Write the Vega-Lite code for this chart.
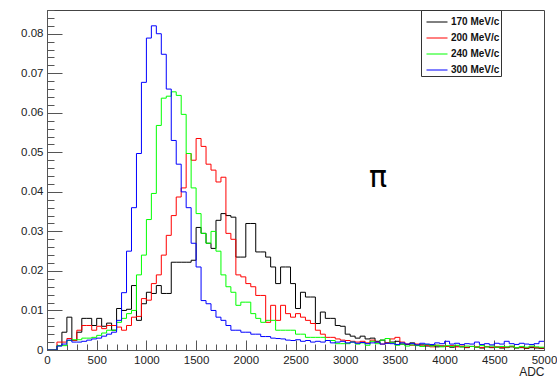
{
  "$schema": "https://vega.github.io/schema/vega-lite/v6.json",
  "width": 497,
  "height": 340,
  "autosize": {"type": "none"},
  "padding": {"left": 47, "top": 10, "right": 13, "bottom": 32},
  "background": "white",
  "config": {"view": {"stroke": "#444", "strokeWidth": 1}, "font": "Liberation Sans"},
  "layer": [
    {
      "data": {"values": [
        {"adc": 0, "170": 0, "200": 0, "240": 0, "300": 0},
        {"adc": 50, "170": 0, "200": 0, "240": 0, "300": 0},
        {"adc": 100, "170": 0.0011, "200": 0.0020, "240": 0.0011, "300": 0.0010},
        {"adc": 150, "170": 0.0045, "200": 0.0020, "240": 0.0011, "300": 0.0015},
        {"adc": 200, "170": 0.0083, "200": 0.0029, "240": 0.0024, "300": 0.0025},
        {"adc": 250, "170": 0.0024, "200": 0.0024, "240": 0.0026, "300": 0.0020},
        {"adc": 300, "170": 0.0045, "200": 0.0050, "240": 0.0026, "300": 0.0020},
        {"adc": 350, "170": 0.0080, "200": 0.0062, "240": 0.0030, "300": 0.0022},
        {"adc": 400, "170": 0.0080, "200": 0.0062, "240": 0.0030, "300": 0.0025},
        {"adc": 450, "170": 0.0062, "200": 0.0050, "240": 0.0032, "300": 0.0028},
        {"adc": 500, "170": 0.0080, "200": 0.0060, "240": 0.0037, "300": 0.0030},
        {"adc": 550, "170": 0.0060, "200": 0.0054, "240": 0.0043, "300": 0.0035},
        {"adc": 600, "170": 0.0068, "200": 0.0062, "240": 0.0050, "300": 0.0040},
        {"adc": 650, "170": 0.0050, "200": 0.0062, "240": 0.0050, "300": 0.0045},
        {"adc": 700, "170": 0.0105, "200": 0.0058, "240": 0.0070, "300": 0.0075},
        {"adc": 750, "170": 0.0100, "200": 0.0050, "240": 0.0080, "300": 0.0145},
        {"adc": 800, "170": 0.0103, "200": 0.0062, "240": 0.0092, "300": 0.0250},
        {"adc": 850, "170": 0.0163, "200": 0.0083, "240": 0.0100, "300": 0.0360},
        {"adc": 900, "170": 0.0075, "200": 0.0085, "240": 0.0190, "300": 0.0497},
        {"adc": 950, "170": 0.0117, "200": 0.0130, "240": 0.0240, "300": 0.0677},
        {"adc": 1000, "170": 0.0146, "200": 0.0126, "240": 0.0330, "300": 0.0789},
        {"adc": 1050, "170": 0.0143, "200": 0.0168, "240": 0.0396, "300": 0.0820},
        {"adc": 1100, "170": 0.0163, "200": 0.0190, "240": 0.0568, "300": 0.0800},
        {"adc": 1150, "170": 0.0143, "200": 0.0240, "240": 0.0637, "300": 0.0748},
        {"adc": 1200, "170": 0.0143, "200": 0.0290, "240": 0.0642, "300": 0.0660},
        {"adc": 1250, "170": 0.0222, "200": 0.0340, "240": 0.0653, "300": 0.0530},
        {"adc": 1300, "170": 0.0222, "200": 0.0387, "240": 0.0644, "300": 0.0470},
        {"adc": 1350, "170": 0.0222, "200": 0.0410, "240": 0.0596, "300": 0.0400},
        {"adc": 1400, "170": 0.0222, "200": 0.0497, "240": 0.0497, "300": 0.0360},
        {"adc": 1450, "170": 0.0227, "200": 0.0480, "240": 0.0410, "300": 0.0270},
        {"adc": 1500, "170": 0.0310, "200": 0.0535, "240": 0.0345, "300": 0.0210},
        {"adc": 1550, "170": 0.0295, "200": 0.0515, "240": 0.0295, "300": 0.0125},
        {"adc": 1600, "170": 0.0270, "200": 0.0470, "240": 0.0270, "300": 0.0117},
        {"adc": 1650, "170": 0.0257, "200": 0.0455, "240": 0.0300, "300": 0.0100},
        {"adc": 1700, "170": 0.0328, "200": 0.0425, "240": 0.0250, "300": 0.0083},
        {"adc": 1750, "170": 0.0345, "200": 0.0437, "240": 0.0190, "300": 0.0075},
        {"adc": 1800, "170": 0.0340, "200": 0.0295, "240": 0.0160, "300": 0.0062},
        {"adc": 1850, "170": 0.0336, "200": 0.0280, "240": 0.0146, "300": 0.0050},
        {"adc": 1900, "170": 0.0235, "200": 0.0190, "240": 0.0113, "300": 0.0050},
        {"adc": 1950, "170": 0.0235, "200": 0.0185, "240": 0.0121, "300": 0.0045},
        {"adc": 2000, "170": 0.0320, "200": 0.0168, "240": 0.0121, "300": 0.0045},
        {"adc": 2050, "170": 0.0320, "200": 0.0160, "240": 0.0092, "300": 0.0040},
        {"adc": 2100, "170": 0.0248, "200": 0.0138, "240": 0.0080, "300": 0.0040},
        {"adc": 2150, "170": 0.0248, "200": 0.0138, "240": 0.0070, "300": 0.0034},
        {"adc": 2200, "170": 0.0235, "200": 0.0070, "240": 0.0075, "300": 0.0034},
        {"adc": 2250, "170": 0.0210, "200": 0.0113, "240": 0.0075, "300": 0.0030},
        {"adc": 2300, "170": 0.0168, "200": 0.0075, "240": 0.0050, "300": 0.0029},
        {"adc": 2350, "170": 0.0210, "200": 0.0113, "240": 0.0050, "300": 0.0028},
        {"adc": 2400, "170": 0.0210, "200": 0.0092, "240": 0.0050, "300": 0.0025},
        {"adc": 2450, "170": 0.0168, "200": 0.0083, "240": 0.0050, "300": 0.0024},
        {"adc": 2500, "170": 0.0105, "200": 0.0092, "240": 0.0040, "300": 0.0026},
        {"adc": 2550, "170": 0.0146, "200": 0.0083, "240": 0.0040, "300": 0.0022},
        {"adc": 2600, "170": 0.0134, "200": 0.0075, "240": 0.0032, "300": 0.0024},
        {"adc": 2650, "170": 0.0134, "200": 0.0067, "240": 0.0032, "300": 0.0020},
        {"adc": 2700, "170": 0.0067, "200": 0.0050, "240": 0.0032, "300": 0.0022},
        {"adc": 2750, "170": 0.0096, "200": 0.0040, "240": 0.0032, "300": 0.0020},
        {"adc": 2800, "170": 0.0080, "200": 0.0032, "240": 0.0024, "300": 0.0024},
        {"adc": 2850, "170": 0.0080, "200": 0.0032, "240": 0.0024, "300": 0.0018},
        {"adc": 2900, "170": 0.0062, "200": 0.0028, "240": 0.0016, "300": 0.0020},
        {"adc": 2950, "170": 0.0060, "200": 0.0025, "240": 0.0016, "300": 0.0022},
        {"adc": 3000, "170": 0.0040, "200": 0.0024, "240": 0.0016, "300": 0.0018},
        {"adc": 3050, "170": 0.0035, "200": 0.0022, "240": 0.0020, "300": 0.0020},
        {"adc": 3100, "170": 0.0030, "200": 0.0020, "240": 0.0015, "300": 0.0017},
        {"adc": 3150, "170": 0.0035, "200": 0.0022, "240": 0.0018, "300": 0.0019},
        {"adc": 3200, "170": 0.0028, "200": 0.0018, "240": 0.0012, "300": 0.0016},
        {"adc": 3250, "170": 0.0030, "200": 0.0025, "240": 0.0022, "300": 0.0018},
        {"adc": 3300, "170": 0.0022, "200": 0.0020, "240": 0.0016, "300": 0.0020},
        {"adc": 3350, "170": 0.0025, "200": 0.0015, "240": 0.0025, "300": 0.0015},
        {"adc": 3400, "170": 0.0018, "200": 0.0018, "240": 0.0029, "300": 0.0017},
        {"adc": 3450, "170": 0.0020, "200": 0.0028, "240": 0.0018, "300": 0.0016},
        {"adc": 3500, "170": 0.0022, "200": 0.0032, "240": 0.0012, "300": 0.0014},
        {"adc": 3550, "170": 0.0015, "200": 0.0020, "240": 0.0015, "300": 0.0018},
        {"adc": 3600, "170": 0.0014, "200": 0.0015, "240": 0.0010, "300": 0.0015},
        {"adc": 3650, "170": 0.0018, "200": 0.0012, "240": 0.0013, "300": 0.0016},
        {"adc": 3700, "170": 0.0012, "200": 0.0015, "240": 0.0011, "300": 0.0013},
        {"adc": 3750, "170": 0.0013, "200": 0.0010, "240": 0.0009, "300": 0.0017},
        {"adc": 3800, "170": 0.0010, "200": 0.0012, "240": 0.0014, "300": 0.0015},
        {"adc": 3850, "170": 0.0012, "200": 0.0008, "240": 0.0010, "300": 0.0014},
        {"adc": 3900, "170": 0.0008, "200": 0.0012, "240": 0.0012, "300": 0.0018},
        {"adc": 3950, "170": 0.0010, "200": 0.0010, "240": 0.0008, "300": 0.0016},
        {"adc": 4000, "170": 0.0009, "200": 0.0009, "240": 0.0011, "300": 0.0022},
        {"adc": 4050, "170": 0.0007, "200": 0.0011, "240": 0.0009, "300": 0.0015},
        {"adc": 4100, "170": 0.0010, "200": 0.0008, "240": 0.0012, "300": 0.0017},
        {"adc": 4150, "170": 0.0008, "200": 0.0010, "240": 0.0008, "300": 0.0014},
        {"adc": 4200, "170": 0.0006, "200": 0.0007, "240": 0.0010, "300": 0.0016},
        {"adc": 4250, "170": 0.0009, "200": 0.0009, "240": 0.0009, "300": 0.0015},
        {"adc": 4300, "170": 0.0007, "200": 0.0008, "240": 0.0007, "300": 0.0020},
        {"adc": 4350, "170": 0.0005, "200": 0.0006, "240": 0.0011, "300": 0.0014},
        {"adc": 4400, "170": 0.0008, "200": 0.0009, "240": 0.0008, "300": 0.0016},
        {"adc": 4450, "170": 0.0006, "200": 0.0007, "240": 0.0010, "300": 0.0013},
        {"adc": 4500, "170": 0.0007, "200": 0.0008, "240": 0.0007, "300": 0.0017},
        {"adc": 4550, "170": 0.0005, "200": 0.0006, "240": 0.0009, "300": 0.0015},
        {"adc": 4600, "170": 0.0006, "200": 0.0007, "240": 0.0008, "300": 0.0022},
        {"adc": 4650, "170": 0.0008, "200": 0.0009, "240": 0.0010, "300": 0.0016},
        {"adc": 4700, "170": 0.0005, "200": 0.0006, "240": 0.0006, "300": 0.0014},
        {"adc": 4750, "170": 0.0006, "200": 0.0007, "240": 0.0009, "300": 0.0017},
        {"adc": 4800, "170": 0.0004, "200": 0.0005, "240": 0.0007, "300": 0.0015},
        {"adc": 4850, "170": 0.0006, "200": 0.0008, "240": 0.0010, "300": 0.0014},
        {"adc": 4900, "170": 0.0005, "200": 0.0006, "240": 0.0008, "300": 0.0016},
        {"adc": 4950, "170": 0.0004, "200": 0.0005, "240": 0.0007, "300": 0.0022},
        {"adc": 5000, "170": 0.0004, "200": 0.0005, "240": 0.0007, "300": 0.0022}
      ]},
      "transform": [{"fold": ["170", "200", "240", "300"], "as": ["series", "v"]}],
      "mark": {"type": "line", "interpolate": "step-after", "strokeWidth": 1, "clip": true},
      "encoding": {
        "x": {
          "field": "adc", "type": "quantitative",
          "scale": {"domain": [0, 5000], "nice": false, "zero": false},
          "axis": {
            "values": [0,100,200,300,400,500,600,700,800,900,1000,1100,1200,1300,1400,1500,1600,1700,1800,1900,2000,2100,2200,2300,2400,2500,2600,2700,2800,2900,3000,3100,3200,3300,3400,3500,3600,3700,3800,3900,4000,4100,4200,4300,4400,4500,4600,4700,4800,4900,5000],
            "tickCount": 200,
            "labelExpr": "datum.value % 500 === 0 ? format(datum.value, 'd') : ''",
            "tickSize": {"condition": {"test": "datum.value % 500 === 0", "value": -10}, "value": -6},
            "tickColor": "#555", "domainColor": "#555", "grid": false,
            "labelFontSize": 11.5, "labelColor": "#222", "labelPadding": 14,
            "labelFlush": false, "labelOverlap": false,
            "title": "ADC", "titleAnchor": "end", "titleFontWeight": "normal",
            "titleFontSize": 12, "titleColor": "#222", "titlePadding": -3
          }
        },
        "y": {
          "field": "v", "type": "quantitative",
          "scale": {"domain": [0, 0.086], "nice": false},
          "axis": {
            "values": [0,0.002,0.004,0.006,0.008,0.01,0.012,0.014,0.016,0.018,0.02,0.022,0.024,0.026,0.028,0.03,0.032,0.034,0.036,0.038,0.04,0.042,0.044,0.046,0.048,0.05,0.052,0.054,0.056,0.058,0.06,0.062,0.064,0.066,0.068,0.07,0.072,0.074,0.076,0.078,0.08,0.082,0.084,0.086],
            "tickCount": 200,
            "labelExpr": "abs(datum.value*100 - round(datum.value*100)) < 0.01 ? (datum.value === 0 ? '0' : format(datum.value, '.2f')) : ''",
            "tickSize": {"condition": {"test": "abs(datum.value*100 - round(datum.value*100)) < 0.01", "value": -15}, "value": -7},
            "tickColor": "#555", "domainColor": "#555", "grid": false,
            "labelFontSize": 11.5, "labelColor": "#222", "labelPadding": 19,
            "labelFlush": false, "labelOverlap": false,
            "title": null
          }
        },
        "color": {
          "field": "series", "type": "nominal",
          "scale": {"domain": ["170", "200", "240", "300"], "range": ["#000000", "#ff0000", "#00ff00", "#0000ff"]},
          "legend": {
            "orient": "none", "legendX": 374, "legendY": 0,
            "title": null, "symbolType": "stroke", "symbolSize": 441,
            "symbolStrokeWidth": 1, "symbolOffset": 4,
            "labelFontSize": 10, "labelFontWeight": "bold", "labelColor": "#111",
            "labelOffset": 3, "labelLimit": 200,
            "labelExpr": "datum.label + ' MeV/c\u00a0\u00a0\u00a0\u00a0\u00a0\u00a0\u00a0\u00a0\u00a0\u00a0\u00a0\u00a0\u00a0\u00a0\u00a0'",
            "strokeColor": "#333", "fillColor": "white", "padding": 1, "rowPadding": 0
          }
        }
      }
    },
    {
      "data": {"values": [{"adc": 3330, "v": 0.0434, "label": "π"}]},
      "mark": {"type": "text", "fontSize": 30, "font": "DejaVu Sans", "color": "black", "baseline": "middle", "align": "center"},
      "encoding": {
        "x": {"field": "adc", "type": "quantitative"},
        "y": {"field": "v", "type": "quantitative"},
        "text": {"field": "label"}
      }
    }
  ]
}
